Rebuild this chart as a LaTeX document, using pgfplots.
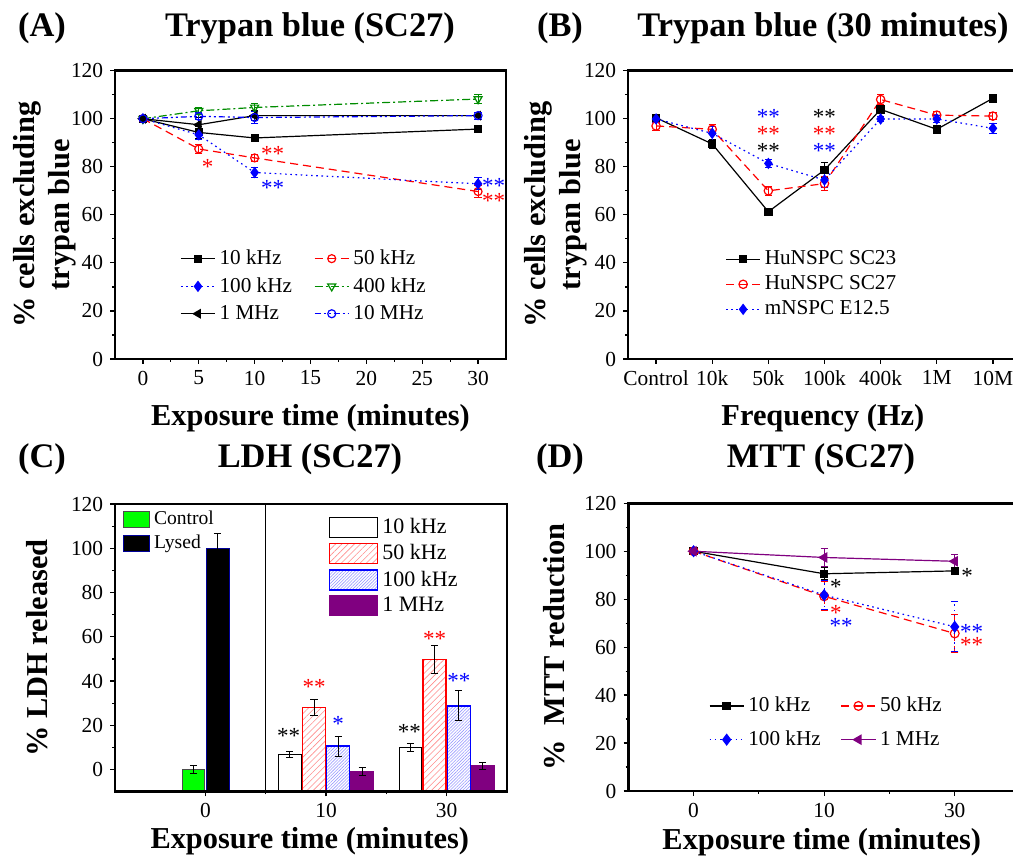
\documentclass[border=0pt]{standalone}
\usepackage{fontspec}
\setmainfont{Liberation Serif}
\usepackage{pgfplots}
\pgfplotsset{compat=1.18}
\usetikzlibrary{patterns.meta}

\definecolor{dgreen}{RGB}{0,140,0}
\definecolor{mpurple}{RGB}{128,0,128}
\definecolor{lgreen}{RGB}{0,255,0}

\pgfplotsset{
  panel/.style={
    scale only axis, anchor=south west,
    axis line style={line width=1.4pt},
    tick align=outside,
    xtick pos=bottom, ytick pos=left,
    major tick length=2.4pt, minor tick length=1.4pt,
    every tick/.style={black, line width=0.6pt},
    tick label style={font=\fontsize{10.7}{12}\selectfont},
    /pgf/number format/assume math mode=true,
    label style={font=\fontsize{15.2}{17.5}\selectfont\bfseries},
    clip=false,
    legend style={draw=none, fill=none, font=\fontsize{10.6}{12}\selectfont, inner sep=0pt, row sep=1.5pt},
    legend cell align=left,
    error bars/y dir=both, error bars/y explicit,
    error bars/error bar style={line width=0.5pt},
    error bars/error mark options={rotate=90, mark size=1.8pt, line width=0.5pt},
  },
  lw/.style={line width=0.6pt},
  dashedr/.style={dash pattern=on 4pt off 2.5pt},
  dottedb/.style={dash pattern=on 0.8pt off 1.8pt},
  dashdot/.style={dash pattern=on 4pt off 1.5pt on 1pt off 1.5pt},
  dashdotdot/.style={dash pattern=on 3pt off 1.5pt on 1pt off 1.5pt on 1pt off 1.5pt},
  cbarA/.style={ybar, bar width=0.19, bar shift=0, legend image code/.code={\draw[##1] (0pt,-4pt) rectangle (13pt,4pt);}},
  cbarB/.style={ybar, bar width=0.19, bar shift=0, legend image code/.code={\draw[##1] (0pt,-5pt) rectangle (24pt,5pt);}},
}
\tikzset{star/.style={font=\fontsize{11.5}{12}\selectfont, inner sep=0pt, anchor=center, yshift=-2pt}}

\begin{document}
\begin{tikzpicture}
% titles
\begin{scope}[every node/.style={font=\fontsize{17.2}{20}\selectfont\bfseries}]
\node at (21pt,416.5pt) {(A)};
\node at (155pt,416.5pt) {Trypan blue (SC27)};
\node at (280pt,416.5pt) {(B)};
\node at (411.5pt,416.5pt) {Trypan blue (30 minutes)};
\node at (21pt,201pt) {(C)};
\node at (155pt,201pt) {LDH (SC27)};
\node at (280pt,201pt) {(D)};
\node at (410.5pt,201pt) {MTT (SC27)};
\end{scope}

% ---------------- Panel A
\begin{axis}[panel, at={(57.5pt,251pt)}, width=195.5pt, height=144.15pt,
  xmin=-2.5, xmax=32.5, ymin=0, ymax=120,
  xtick={0,5,...,30}, minor xtick={2.5,7.5,...,27.5},
  ytick={0,20,...,120}, minor ytick={10,30,...,110},
  xlabel={Exposure time (minutes)}, ylabel={\% cells excluding\\trypan blue},
  xlabel style={at={(axis description cs:0.5,-0.205)}, anchor=center},
  ylabel style={align=center, at={(axis description cs:-0.18,0.5)}, anchor=center},
  legend columns=2,
  legend style={at={(axis description cs:0.166,0.253)}, anchor=west, row sep=1pt, /tikz/every even column/.append style={column sep=9pt}},
]
\addplot[black, lw, mark=square*, mark size=1.7pt] coordinates {(0,100)+-(0,1.5) (5,94.3)+-(0,2.5) (10,92)+-(0,1.5) (30,95.7)+-(0,1)};
\addlegendentry{10 kHz}
\addplot[red, lw, dashedr, mark=o, mark size=2pt, mark options={solid, fill=white}] coordinates {(0,100)+-(0,1) (5,87.4)+-(0,2) (10,83.7)+-(0,1.5) (30,69.7)+-(0,2.5)};
\addlegendentry{50 kHz}
\addplot[blue, lw, dottedb, mark=diamond*, mark size=2.4pt, mark options={solid}] coordinates {(0,100)+-(0,1) (5,93.3)+-(0,2) (10,77.6)+-(0,2) (30,72.9)+-(0,2.5)};
\addlegendentry{100 kHz}
\addplot[dgreen, lw, dashdot, mark=triangle, mark size=2.3pt, mark options={solid, rotate=180, fill=white}] coordinates {(0,100)+-(0,1) (5,103.3)+-(0,1.5) (10,104.7)+-(0,1.5) (30,108.2)+-(0,2)};
\addlegendentry{400 kHz}
\addplot[black, lw, mark=triangle*, mark size=2.3pt, mark options={rotate=90}] coordinates {(0,100)+-(0,1) (5,97.5)+-(0,3) (10,101.3)+-(0,2) (30,101.3)+-(0,1.5)};
\addlegendentry{1 MHz}
\addplot[blue, lw, dashdotdot, mark=o, mark size=2pt, mark options={solid, fill=white}] coordinates {(0,100)+-(0,1) (5,101)+-(0,1.5) (10,100.5)+-(0,2.5) (30,101.3)+-(0,1.5)};
\addlegendentry{10 MHz}
\node[star, red] at (axis cs:5.8,81.5) {*};
\node[star, red] at (axis cs:11.6,87) {**};
\node[star, blue] at (axis cs:11.6,72.9) {**};
\node[star, blue] at (axis cs:31.4,73.5) {**};
\node[star, red] at (axis cs:31.4,67.6) {**};
\end{axis}

% ---------------- Panel B
\begin{axis}[panel, at={(314pt,251pt)}, width=196.5pt, height=144.15pt,
  xmin=-0.5, xmax=6.5, ymin=0, ymax=120,
  xtick={0,...,6}, xticklabels={Control,10k,50k,100k,400k,1M,10M},
  ytick={0,20,...,120}, minor ytick={10,30,...,110},
  xlabel={Frequency (Hz)}, ylabel={\% cells excluding\\trypan blue},
  xlabel style={at={(axis description cs:0.496,-0.205)}, anchor=center},
  ylabel style={align=center, at={(axis description cs:-0.183,0.5)}, anchor=center},
  legend style={at={(axis description cs:0.247,0.259)}, anchor=west, row sep=0pt},
]
\addplot[black, lw, mark=square*, mark size=1.8pt] coordinates {(0,100.4)+-(0,1.5) (1,89.5)+-(0,2) (2,61.3)+-(0,1.5) (3,78.7)+-(0,3) (4,103.9)+-(0,1.5) (5,95.6)+-(0,1.5) (6,108.5)+-(0,1.5)};
\addlegendentry{HuNSPC SC23}
\addplot[red, lw, dashedr, mark=o, mark size=2.1pt, mark options={solid, fill=white}] coordinates {(0,97)+-(0,2) (1,95.6)+-(0,2) (2,70)+-(0,2) (3,73)+-(0,3) (4,108)+-(0,2) (5,101.5)+-(0,1.5) (6,101.1)+-(0,1.5)};
\addlegendentry{HuNSPC SC27}
\addplot[blue, lw, dottedb, mark=diamond*, mark size=2.4pt, mark options={solid}] coordinates {(0,99.9)+-(0,1.5) (1,93.9)+-(0,3) (2,81.4)+-(0,1.5) (3,74.5)+-(0,3) (4,99.9)+-(0,1) (5,99.9)+-(0,1.5) (6,96)+-(0,2)};
\addlegendentry{mNSPC E12.5}
\node[star, blue] at (axis cs:2,102.2) {**};
\node[star, red] at (axis cs:2,95.3) {**};
\node[star, black] at (axis cs:2,88.4) {**};
\node[star, black] at (axis cs:3,102.2) {**};
\node[star, red] at (axis cs:3,95.3) {**};
\node[star, blue] at (axis cs:3,88.4) {**};
\end{axis}

% ---------------- Panel C overlay (control / lysed), drawn first
\begin{axis}[panel, at={(57.5pt,34.65pt)}, width=196pt, height=143.85pt, hide axis,
  xmin=-0.75, xmax=2.5, ymin=0, ymax=130, y filter/.expression={y+10},
  error bars/error bar style={black, line width=0.5pt},
  error bars/error mark options={rotate=90, mark size=1.8pt, line width=0.5pt, black},
  legend style={at={(axis description cs:0.02,0.905)}, anchor=west, font=\fontsize{9.8}{11}\selectfont, row sep=0pt},
]
\addplot[cbarA, draw=black!70, fill=lgreen, line width=0.4pt] coordinates {(-0.1,0)+-(0,1.8)};
\addlegendentry{Control}
\addplot[cbarA, draw=blue!60!black, fill=black, line width=0.4pt] coordinates {(0.1,100)+-(0,6.7)};
\addlegendentry{Lysed}
\end{axis}

% ---------------- Panel C (frequency bars)
\begin{axis}[panel, at={(57.5pt,34.65pt)}, width=196pt, height=143.85pt,
  xmin=-0.75, xmax=2.5, ymin=0, ymax=130, y filter/.expression={y+10},
  xtick={0,1,2}, xticklabels={0,10,30}, minor xtick={0.5,1.5},
  ytick={10,30,...,130}, yticklabels={0,20,40,60,80,100,120}, minor ytick={20,40,...,120},
  xlabel={Exposure time (minutes)}, ylabel={\% LDH released},
  xlabel style={at={(axis description cs:0.497,-0.172)}, anchor=center},
  ylabel style={at={(axis description cs:-0.199,0.5)}, anchor=center},
  error bars/error bar style={black, line width=0.5pt},
  error bars/error mark options={rotate=90, mark size=1.8pt, line width=0.5pt, black},
  legend style={at={(axis description cs:0.545,0.783)}, anchor=west, font=\fontsize{11}{12}\selectfont, row sep=0pt},
]
\addplot[cbarB, draw=black, fill=white, line width=0.5pt] coordinates {(0.7,6.8)+-(0,1.5) (1.7,10)+-(0,1.7)};
\addlegendentry{10 kHz}
\addplot[cbarB, draw=red, line width=0.7pt, pattern={Lines[angle=45,distance=2.2pt,line width=0.3pt]}, pattern color=red!45] coordinates {(0.9,28.1)+-(0,3.5) (1.9,49.7)+-(0,6.2)};
\addlegendentry{50 kHz}
\addplot[cbarB, draw=blue, line width=0.7pt, pattern={Lines[angle=45,distance=1.1pt,line width=0.3pt]}, pattern color=blue!40] coordinates {(1.1,10.6)+-(0,4.5) (2.1,28.8)+-(0,6.8)};
\addlegendentry{100 kHz}
\addplot[cbarB, draw=mpurple, fill=mpurple, line width=0.5pt] coordinates {(1.3,-0.9)+-(0,2) (2.3,1.8)+-(0,1.6)};
\addlegendentry{1 MHz}
\draw[line width=0.6pt] (axis cs:0.5,0) -- (axis cs:0.5,130);
\node[star, black] at (axis cs:0.69,26.9) {**};
\node[star, red] at (axis cs:0.9,49) {**};
\node[star, blue] at (axis cs:1.1,32.6) {*};
\node[star, black] at (axis cs:1.69,29) {**};
\node[star, red] at (axis cs:1.9,71) {**};
\node[star, blue] at (axis cs:2.1,51.8) {**};
\end{axis}
% frame of panel C
\draw[line width=1.4pt, black] (57.5pt,34.65pt) rectangle ++(196pt,143.85pt);

% ---------------- Panel D
\begin{axis}[panel, at={(314.15pt,35pt)}, width=195.85pt, height=143.85pt,
  xmin=-0.5, xmax=2.5, ymin=0, ymax=120,
  xtick={0,1,2}, xticklabels={0,10,30}, minor xtick={0.5,1.5},
  ytick={0,20,...,120}, minor ytick={10,30,...,110},
  xlabel={Exposure time (minutes)}, ylabel={\%\ \ MTT reduction},
  xlabel style={at={(axis description cs:0.494,-0.179)}, anchor=center},
  ylabel style={at={(axis description cs:-0.19,0.5)}, anchor=center},
  legend columns=2,
  legend style={at={(axis description cs:0.205,0.237)}, anchor=west, row sep=4pt, /tikz/every even column/.append style={column sep=8pt}},
]
\addplot[black, lw, mark=square*, mark size=1.8pt] coordinates {(0,100)+-(0,1) (1,90.6)+-(0,2.5) (2,91.8)+-(0,1)};
\addlegendentry{10 kHz}
\addplot[red, lw, dashedr, mark=o, mark size=2.2pt, mark options={solid, fill=white}] coordinates {(0,100)+-(0,0.5) (1,81.2)+-(0,6) (2,65.7)+-(0,8)};
\addlegendentry{50 kHz}
\addplot[blue, lw, dottedb, mark=diamond*, mark size=2.6pt, mark options={solid}] coordinates {(0,100)+-(0,1) (1,81.7)+-(0,6) (2,68.5)+-(0,10.5)};
\addlegendentry{100 kHz}
\addplot[mpurple, lw, mark=triangle*, mark size=2.5pt, mark options={rotate=90}] coordinates {(0,100)+-(0,1) (1,97.4)+-(0,3.8) (2,95.8)+-(0,3)};
\addlegendentry{1 MHz}
\node[star, black] at (axis cs:1.09,86.8) {*};
\node[star, red] at (axis cs:1.09,76.1) {*};
\node[star, blue] at (axis cs:1.13,70.5) {**};
\node[star, black] at (axis cs:2.095,91.4) {*};
\node[star, blue] at (axis cs:2.13,68.2) {**};
\node[star, red] at (axis cs:2.13,62.5) {**};
\end{axis}

\pgfresetboundingbox
\useasboundingbox (0,0) rectangle (506.5pt,430.5pt);
\end{tikzpicture}
\end{document}
